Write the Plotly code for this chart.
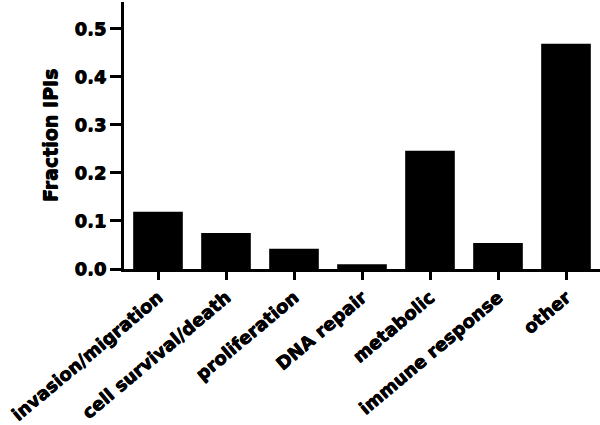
import plotly.graph_objects as go

categories = ["invasion/migration", "cell survival/death", "proliferation", "DNA repair",
              "metabolic", "immune response", "other"]
fractions = [0.119, 0.075, 0.042, 0.010, 0.246, 0.054, 0.469]
y_ticks = [0.0, 0.1, 0.2, 0.3, 0.4, 0.5]

# slight shadow to thicken the strokes, as in the heavy original font
heavy = "0.6px 0 0 #000, 0 0.6px 0 #000"

fig = go.Figure(
    go.Bar(
        x=categories,
        y=fractions,
        marker_color="black",
        marker_line_width=0,
    )
)

fig.update_layout(
    width=600,
    height=425,
    margin=dict(l=124, r=0, t=2, b=156),
    paper_bgcolor="white",
    plot_bgcolor="white",
    bargap=0.27,
    showlegend=False,
    font={"family": "DejaVu Sans, sans-serif", "color": "black"},
    xaxis={
        "showline": True,
        "linecolor": "black",
        "linewidth": 3,
        "ticks": "outside",
        "ticklen": 8,
        "tickwidth": 3,
        "tickcolor": "black",
        "tickangle": -40,
        "tickfont": {"size": 18, "weight": "bold", "shadow": heavy},
        "showgrid": False,
    },
    yaxis={
        "title": {"text": "Fraction IPIs",
                  "font": {"size": 19, "weight": "bold", "shadow": heavy}, "standoff": 12},
        "range": [0, 0.556],
        "tickvals": y_ticks,
        "ticktext": [f"{v:.1f}" for v in y_ticks],
        "showline": True,
        "linecolor": "black",
        "linewidth": 3,
        "ticks": "outside",
        "ticklen": 11,
        "tickwidth": 3,
        "tickcolor": "black",
        "tickfont": {"size": 18, "weight": "bold", "shadow": heavy},
        "showgrid": False,
        "zeroline": False,
    },
)

# drop the default page margin so the figure sits at the window's corner
fig.write_html("out.html", config={"displayModeBar": False},
               post_script="document.body.style.margin='0';")
